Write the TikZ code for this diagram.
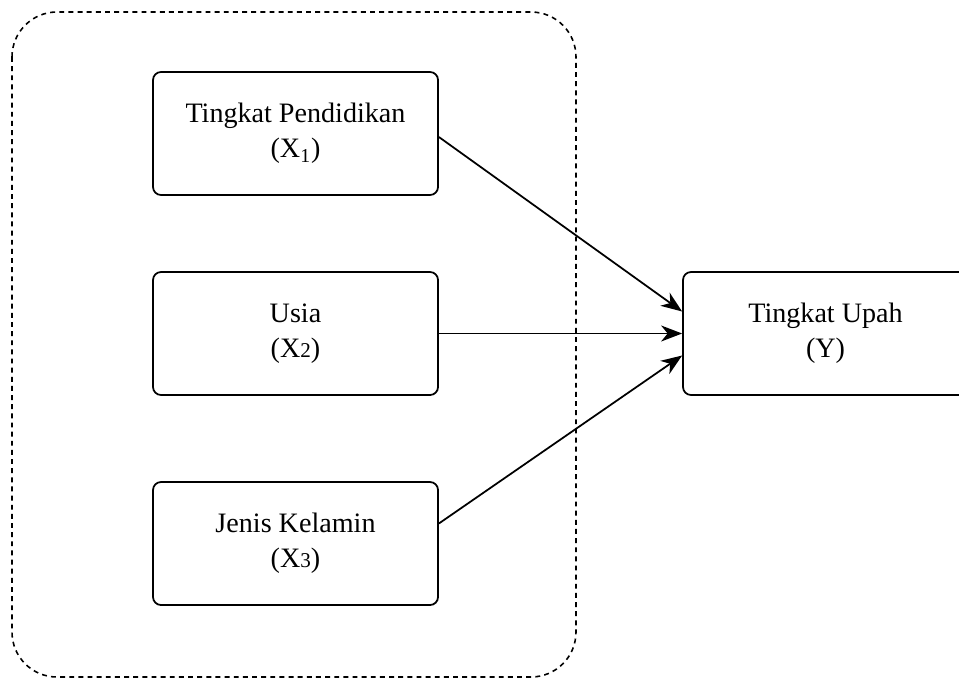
\documentclass[tikz,border=0pt]{standalone}
\usepackage{fontspec}
\setmainfont{Liberation Serif}
\usetikzlibrary{arrows.meta, positioning}

\begin{document}
\begin{tikzpicture}[font=\fontsize{16}{20}\selectfont,
    var/.style={rectangle, draw, line width=1pt, rounded corners=0.16cm,
                minimum width=5.7cm, minimum height=2.46cm, align=center,
                inner sep=0pt},
    link/.style={-{Stealth[length=4.2mm, width=3.2mm, inset=1.3mm]}, line width=1pt},
    group/.style={draw, line width=0.9pt, dash pattern=on 2.8pt off 2.4pt,
                  rounded corners=0.9cm}]
  \useasboundingbox (0,0) rectangle (19.18,-13.6);
  % dashed group round the independent variables
  \draw[group] (0.24,-0.24) rectangle (11.52,-13.54);
  \node[var] (x1) at (5.91,-2.67) {Tingkat Pendidikan\\(X\textsubscript{1})};
  \node[var] (x2) at (5.91,-6.67) {Usia\\(X{\fontsize{12}{14}\selectfont 2})};
  \node[var] (x3) at (5.91,-10.87) {Jenis Kelamin\\(X{\fontsize{12}{14}\selectfont 3})};
  \node[var] (y) at (16.51,-6.67) {Tingkat Upah\\(Y)};
  % arrows into the dependent variable
  \draw[link] ([yshift=-0.07cm]x1.east) -- ([yshift=0.44cm]y.west);
  \draw[link] (x2.east) -- (y.west);
  \draw[link] ([yshift=0.4cm]x3.east) -- ([yshift=-0.44cm]y.west);
\end{tikzpicture}
\end{document}
